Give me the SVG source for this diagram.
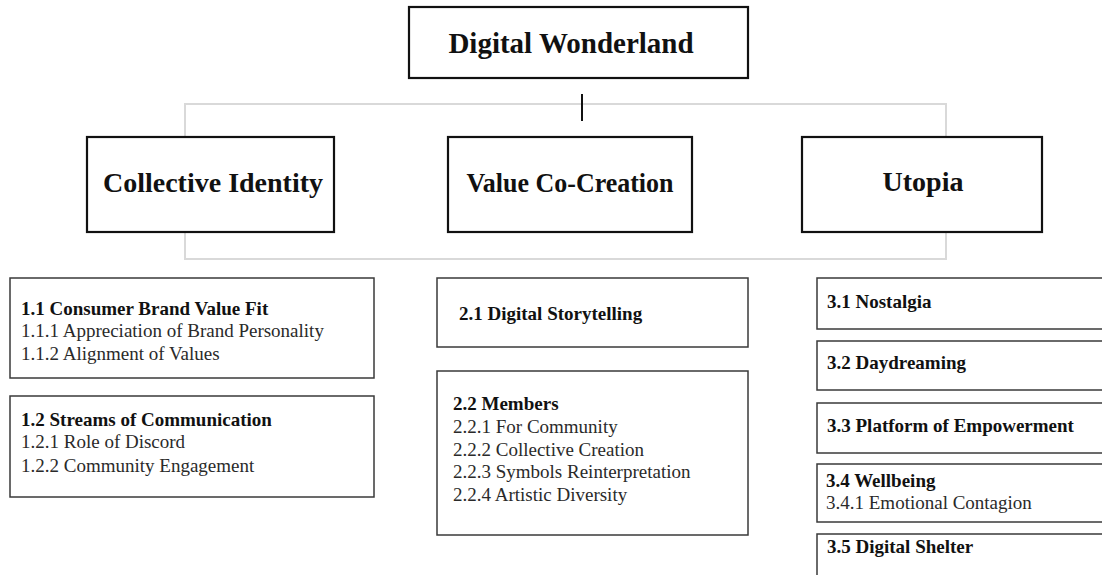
<svg xmlns="http://www.w3.org/2000/svg" width="1102" height="575" viewBox="0 0 1102 575">
  <style>
    .bg { fill: #ffffff; }
    .main { fill: #ffffff; stroke: #111111; stroke-width: 2.2; }
    .sub { fill: #ffffff; stroke: #3a3a3a; stroke-width: 1.5; }
    .link { fill: none; stroke: #d9d9d9; stroke-width: 2; }
    .tick { stroke: #111111; stroke-width: 2; }
    .title { font-family: "Liberation Serif", "Times New Roman", serif; font-weight: bold; font-size: 29px; fill: #111111; }
    .head { font-family: "Liberation Serif", "Times New Roman", serif; font-weight: bold; font-size: 28px; fill: #111111; }
    .b { font-family: "Liberation Serif", "Times New Roman", serif; font-weight: bold; font-size: 19px; fill: #111111; }
    .r { font-family: "Liberation Serif", "Times New Roman", serif; font-size: 19px; fill: #2a2a2a; }
  </style>

  <rect class="bg" x="0" y="0" width="1102" height="575"/>

  <!-- connectors -->
  <g id="connectors">
    <rect class="link" x="185" y="104" width="761" height="155"/>
    <line class="tick" x1="582" y1="94" x2="582" y2="121"/>
  </g>

  <!-- root -->
  <g id="digital-wonderland">
    <rect class="main" x="409" y="7" width="339" height="71"/>
    <text class="title" x="571" y="53" text-anchor="middle">Digital Wonderland</text>
  </g>

  <!-- themes -->
  <g id="collective-identity">
    <rect class="main" x="87" y="137" width="247" height="95"/>
    <text class="head" x="213" y="192" text-anchor="middle">Collective Identity</text>
  </g>
  <g id="value-co-creation">
    <rect class="main" x="448" y="137" width="244" height="95"/>
    <text class="head" x="570" y="192" text-anchor="middle" textLength="207" lengthAdjust="spacingAndGlyphs">Value Co-Creation</text>
  </g>
  <g id="utopia">
    <rect class="main" x="802" y="137" width="240" height="95"/>
    <text class="head" x="923" y="191" text-anchor="middle">Utopia</text>
  </g>

  <!-- theme 1 sub-categories -->
  <g id="n1-1">
    <rect class="sub" x="10" y="278" width="364" height="100"/>
    <text class="b" x="21" y="315">1.1 Consumer Brand Value Fit</text>
    <text class="r" x="21" y="337">1.1.1 Appreciation of Brand Personality</text>
    <text class="r" x="21" y="360">1.1.2 Alignment  of Values</text>
  </g>
  <g id="n1-2">
    <rect class="sub" x="10" y="396" width="364" height="101"/>
    <text class="b" x="21" y="426">1.2 Streams of Communication</text>
    <text class="r" x="21" y="448">1.2.1 Role of Discord</text>
    <text class="r" x="21" y="472">1.2.2 Community  Engagement</text>
  </g>

  <!-- theme 2 sub-categories -->
  <g id="n2-1">
    <rect class="sub" x="437" y="278" width="311" height="69"/>
    <text class="b" x="459" y="320">2.1 Digital Storytelling</text>
  </g>
  <g id="n2-2">
    <rect class="sub" x="437" y="371" width="311" height="164"/>
    <text class="b" x="453" y="410">2.2 Members</text>
    <text class="r" x="453" y="433">2.2.1 For Community</text>
    <text class="r" x="453" y="456">2.2.2 Collective  Creation</text>
    <text class="r" x="453" y="478">2.2.3  Symbols Reinterpretation</text>
    <text class="r" x="453" y="501">2.2.4 Artistic  Diversity</text>
  </g>

  <!-- theme 3 sub-categories -->
  <g id="n3-1">
    <rect class="sub" x="817" y="278" width="300" height="51"/>
    <text class="b" x="827" y="308">3.1 Nostalgia</text>
  </g>
  <g id="n3-2">
    <rect class="sub" x="817" y="341" width="300" height="49"/>
    <text class="b" x="827" y="369">3.2 Daydreaming</text>
  </g>
  <g id="n3-3">
    <rect class="sub" x="817" y="403" width="300" height="50"/>
    <text class="b" x="827" y="432">3.3 Platform of Empowerment</text>
  </g>
  <g id="n3-4">
    <rect class="sub" x="817" y="464" width="300" height="58"/>
    <text class="b" x="826" y="487">3.4 Wellbeing</text>
    <text class="r" x="826" y="509">3.4.1 Emotional  Contagion</text>
  </g>
  <g id="n3-5">
    <rect class="sub" x="817" y="534" width="300" height="60"/>
    <text class="b" x="827" y="553">3.5 Digital Shelter</text>
  </g>
</svg>
